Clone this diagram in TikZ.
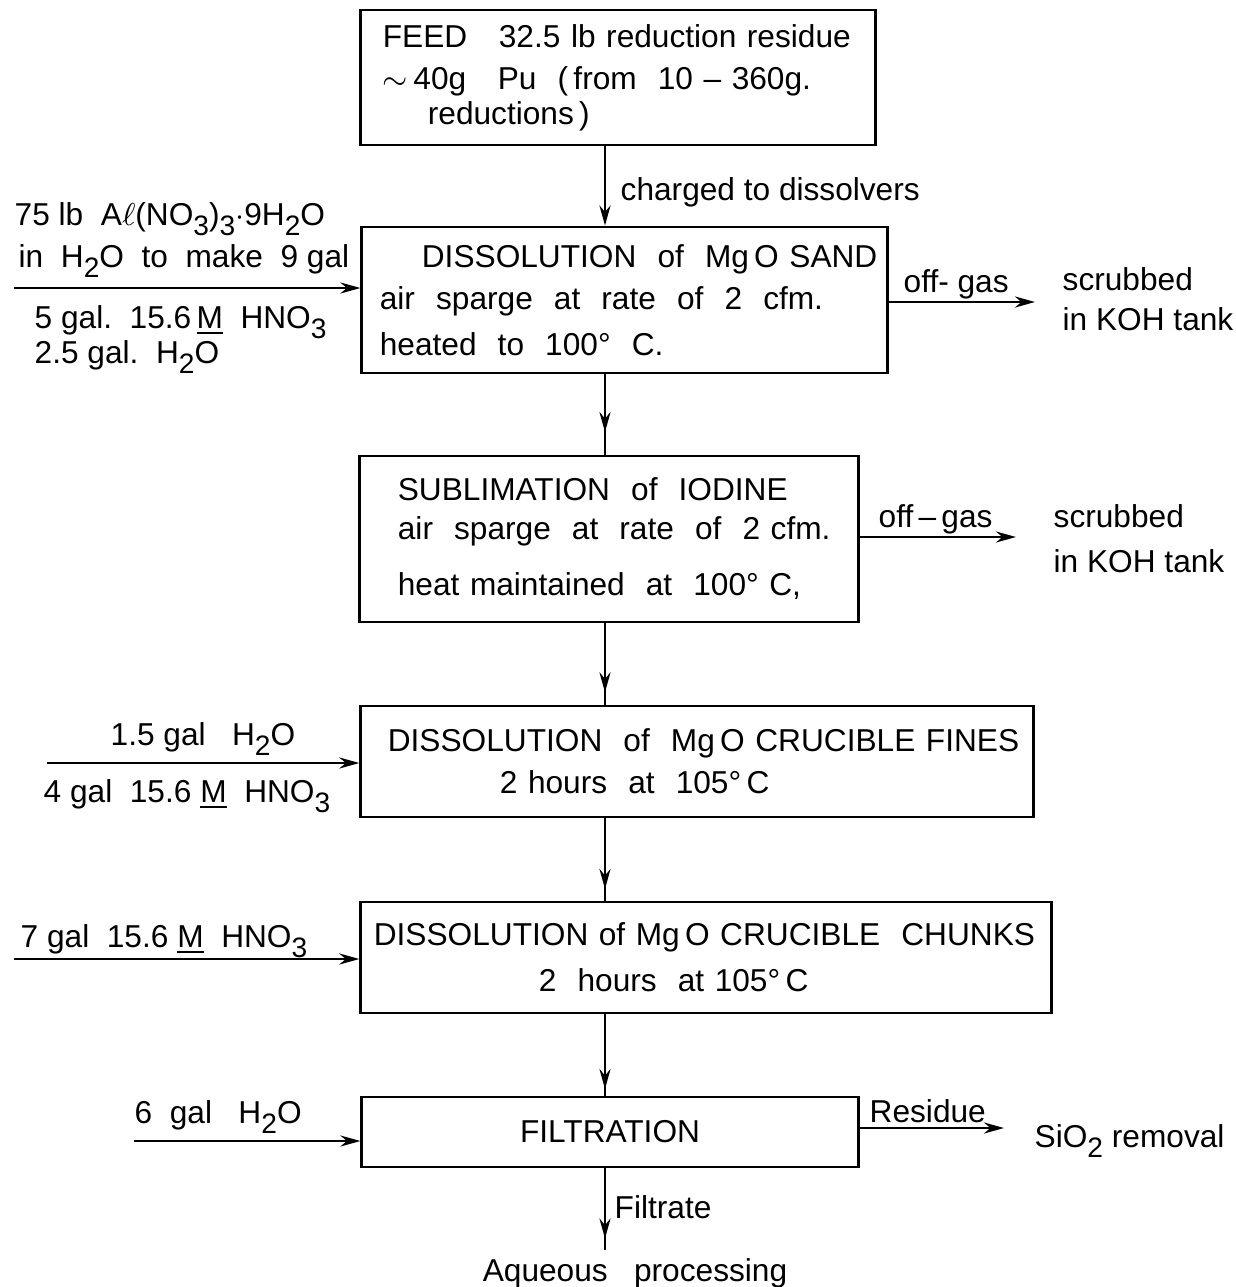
\documentclass[tikz,border=0pt]{standalone}
\usepackage{fontspec}
\setmainfont{Liberation Sans}
\usetikzlibrary{arrows.meta, positioning, decorations.markings}
\newcommand{\lowsub}[1]{\raisebox{-0.6ex}{\fontsize{8}{8}\selectfont #1}}

\begin{document}
\begin{tikzpicture}[x=0.01cm, y=-0.01cm,
    box/.style={rectangle, draw, thick, align=left, inner ysep=0pt, font=\fontsize{9}{11}\selectfont},
    t/.style={inner sep=0pt, anchor=base west, font=\fontsize{9}{11}\selectfont},
    a/.style={-{Stealth[length=2mm, width=1.1mm]}, thick},
    mid/.style={thick, postaction={decorate}, decoration={markings,
        mark=at position #1 with {\arrow{Stealth[length=2mm, width=1.1mm]}}}},
]
\useasboundingbox (0,0) rectangle (1235,1287);
\coordinate (spine) at (605,0);

% process boxes
\node[box, minimum width=5.14cm, minimum height=1.35cm, text width=4.70cm, inner xsep=0.22cm] (feed) at (618,77.5)
  {\mbox{FEED\ \ \ 32.5 lb reduction residue}\\[1pt]
   \mbox{$\sim$\,40g\ \ \ Pu\ \ (\,from\ \ 10 -- 360g.}\\[-1pt]
   \hspace{0.45cm}reductions\,)};
\node[box, minimum width=5.25cm, minimum height=1.46cm, text width=4.89cm, inner xsep=0.18cm] (sand) at (624.5,300)
  {\mbox{\hspace{0.42cm}DISSOLUTION\ \ of\ \ Mg\,O SAND}\\[1pt]
   \mbox{air\ \ sparge\ \ at\ \ rate\ \ of\ \ 2\ \ cfm.}\\[2pt]
   \mbox{heated\ \ to\ \ 100°\ \ C.}};
\node[box, minimum width=4.98cm, minimum height=1.66cm, text width=4.22cm, inner xsep=0.38cm] (iodine) at (609,539)
  {\mbox{SUBLIMATION\ \ of\ \ IODINE}\\
   \mbox{air\ \ sparge\ \ at\ \ rate\ \ of\ \ 2 cfm.}\\[5pt]
   \mbox{heat maintained\ \ at\ \ 100°\ C,}};
\node[box, minimum width=6.72cm, minimum height=1.11cm, text width=6.18cm, inner xsep=0.27cm] (fines) at (697,761.5)
  {\mbox{DISSOLUTION\ \ of\ \ Mg\,O CRUCIBLE FINES}\\[1pt]
   \mbox{\hspace{1.12cm}2 hours\ \ at\ \ 105°\,C}};
\node[box, minimum width=6.90cm, minimum height=1.11cm, text width=6.64cm, inner xsep=0.13cm] (chunks) at (706,957.5)
  {\mbox{DISSOLUTION of Mg\,O CRUCIBLE\ \ CHUNKS}\\[2pt]
   \mbox{\hspace{1.65cm}2\ \ hours\ \ at 105°\,C}};
\node[box, minimum width=4.96cm, minimum height=0.70cm, align=center] (filter) at (610,1132) {FILTRATION};

% main flow
\draw[a] (feed.south -| spine) -- (sand.north -| spine);
\draw[mid=0.72] (sand.south -| spine) -- (iodine.north -| spine);
\draw[mid=0.85] (iodine.south -| spine) -- (fines.north -| spine);
\draw[mid=0.86] (fines.south -| spine) -- (chunks.north -| spine);
\draw[mid=0.92] (chunks.south -| spine) -- (filter.north -| spine);
\coordinate (aq) at (605,1250);
\draw[mid=0.86] (filter.south -| spine) -- (aq);
\node[t] (charged) at (620,200) {charged to dissolvers};
\node[t] (filtrate) at (614,1218) {Filtrate};
\node[t, anchor=base] (aqueous) at (635,1281) {Aqueous\ \ \ processing};

% feeds from the left
\coordinate (inA) at (14,288);
\draw[a] (inA) -- (inA -| sand.west);
\node[t] (alnit) at (14,225) {75 lb\ \ A$\ell$(NO\lowsub{3})\lowsub{3}$\cdot$9H\lowsub{2}O};
\node[t] (alwater) at (18,267) {in\ \ H\lowsub{2}O\ \ to\ \ make\ \ 9 gal};
\node[t] (acidA) at (34,328) {5 gal.\ \ 15.6\,\underline{M}\ \ HNO\lowsub{3}};
\node[t] (waterA) at (34,363) {2.5 gal.\ \ H\lowsub{2}O};

\coordinate (inB) at (47,763);
\draw[a] (inB) -- (inB -| fines.west);
\node[t] (waterB) at (110,745) {1.5 gal\ \ \ H\lowsub{2}O};
\node[t] (acidB) at (43,802) {4 gal\ \ 15.6 \underline{M}\ \ HNO\lowsub{3}};

\coordinate (inC) at (14,959);
\draw[a] (inC) -- (inC -| chunks.west);
\node[t] (acidC) at (20,947) {7 gal\ \ 15.6 \underline{M}\ \ HNO\lowsub{3}};

\coordinate (inD) at (134,1141);
\draw[a] (inD) -- (inD -| filter.west);
\node[t] (waterD) at (134,1123) {6\ \ gal\ \ \ H\lowsub{2}O};

% outputs to the right
\coordinate (outA) at (1035,302);
\draw[a] (outA -| sand.east) -- (outA);
\node[t] (gasA) at (903,292) {off-\ gas};
\node[t] (scrubA) at (1062,290) {scrubbed};
\node[t] (kohA) at (1062,330) {in KOH tank};

\coordinate (outB) at (1016,537);
\draw[a] (outB -| iodine.east) -- (outB);
\node[t] (gasB) at (878,527) {off\,--\,gas};
\node[t] (scrubB) at (1053,527) {scrubbed};
\node[t] (kohB) at (1053,572) {in KOH tank};

\coordinate (outC) at (1004,1128);
\draw[a] (outC -| filter.east) -- (outC);
\node[t] (residue) at (869,1122) {Residue};
\node[t] (silica) at (1034,1147) {SiO\lowsub{2}\ removal};
\end{tikzpicture}
\end{document}
